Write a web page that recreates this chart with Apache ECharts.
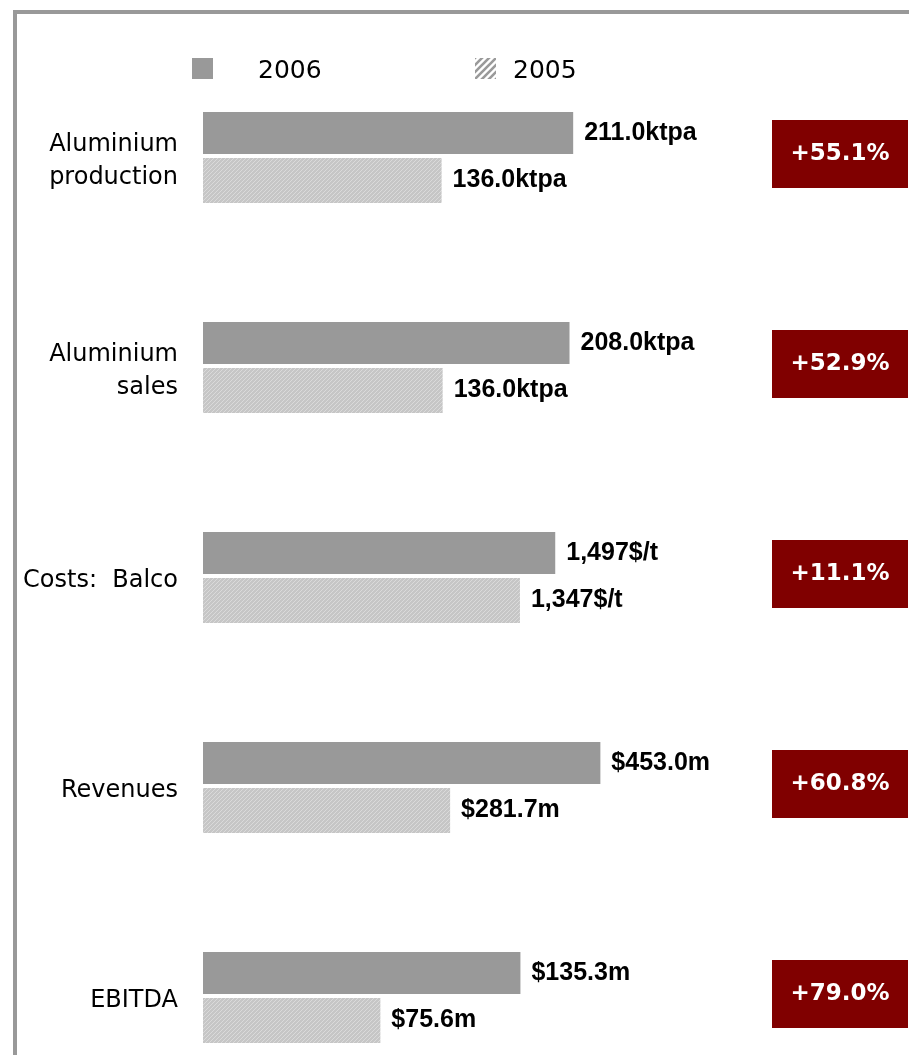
<!DOCTYPE html>
<html>
<head>
<meta charset="utf-8">
<script src="https://cdn.jsdelivr.net/npm/echarts@6/dist/echarts.min.js"></script>
<style>
html,body{margin:0;padding:0;background:#fff;}
#chart{width:909px;height:1055px;}
</style>
</head>
<body>
<div id="chart"></div>
<script>
// ---- data ----
const categories = ['Aluminium\nproduction', 'Aluminium\nsales', 'Costs:  Balco', 'Revenues', 'EBITDA'];
const values2006 = [211.0, 208.0, 1497, 453.0, 135.3];
const values2005 = [136.0, 136.0, 1347, 281.7, 75.6];
const formats = [
  v => v.toFixed(1) + 'ktpa',
  v => v.toFixed(1) + 'ktpa',
  v => v.toLocaleString('en-US') + '$/t',
  v => '$' + v.toFixed(1) + 'm',
  v => '$' + v.toFixed(1) + 'm'
];
const seriesNames = ['2006', '2005'];
// per-metric axis maxima (each metric has its own scale)
const axisMax = [228, 227, 1700, 456, 170.5];

// ---- styling helpers ----
function hatch(size, bg, fg, lw) {
  const c = document.createElement('canvas');
  c.width = c.height = size;
  const x = c.getContext('2d');
  x.fillStyle = bg; x.fillRect(0, 0, size, size);
  x.strokeStyle = fg; x.lineWidth = lw;
  x.beginPath();
  x.moveTo(0, size); x.lineTo(size, 0);
  x.moveTo(-size / 2, size / 2); x.lineTo(size / 2, -size / 2);
  x.moveTo(size / 2, size * 1.5); x.lineTo(size * 1.5, size / 2);
  x.stroke();
  return c;
}
const barHatch = { image: hatch(4, '#c6c6c6', '#dadada', 1), repeat: 'repeat' };
const legendHatch = { image: hatch(7, '#ffffff', '#9a9a9a', 2.6), repeat: 'repeat' };

const changes = values2006.map((v, i) => '+' + ((v / values2005[i] - 1) * 100).toFixed(1) + '%');

const GRID_LEFT = 203, GRID_W = 400, GRID_TOP = 112, GRID_H = 91, STEP = 210;

const grids = [], xAxes = [], yAxes = [], series = [];
categories.forEach((cat, i) => {
  grids.push({ left: GRID_LEFT, width: GRID_W, top: GRID_TOP + STEP * i, height: GRID_H,
    containLabel: false, outerBoundsMode: 'none' });
  xAxes.push({ type: 'value', gridIndex: i, min: 0, max: axisMax[i], show: false });
  yAxes.push({
    type: 'category', gridIndex: i, data: [cat], inverse: false,
    axisLine: { show: false }, axisTick: { show: false }, splitLine: { show: false },
    axisLabel: {
      margin: 25,
      formatter: v => '{s|}\n' + v.split('\n').map(s => '{n|' + s + '}').join('\n'),
      rich: {
        s: { fontSize: 6, lineHeight: 7, height: 7 },
        n: { fontSize: 24, lineHeight: 33, color: '#000', fontFamily: 'DejaVu Sans', align: 'right' }
      }
    }
  });
  yAxes.push({
    type: 'category', gridIndex: i, position: 'right', data: [changes[i]],
    axisLine: { show: false }, axisTick: { show: false }, splitLine: { show: false },
    axisLabel: {
      margin: 237, align: 'center', padding: [0, 0, 7, 0],
      formatter: v => '{b|' + v + '}',
      rich: { b: { backgroundColor: '#800000', color: '#fff', width: 136, height: 68, lineHeight: 68,
        align: 'center', fontSize: 23, fontWeight: 'bold', fontFamily: 'DejaVu Sans' } }
    }
  });
  const labelStyle = { show: true, position: 'right', distance: 11, color: '#000', fontSize: 25,
    fontWeight: 'bold', fontFamily: 'Liberation Sans' };
  series.push({
    name: seriesNames[0], type: 'bar', xAxisIndex: i, yAxisIndex: 2 * i, barWidth: 42, barGap: '10%',
    data: [values2006[i]], itemStyle: { color: '#999999' }, silent: true,
    label: Object.assign({ formatter: p => formats[i](p.value) }, labelStyle)
  });
  series.push({
    name: seriesNames[1], type: 'bar', xAxisIndex: i, yAxisIndex: 2 * i, barWidth: 45, barGap: '10%',
    data: [values2005[i]], itemStyle: { color: barHatch }, silent: true,
    label: Object.assign({ formatter: p => formats[i](p.value) }, labelStyle)
  });
});

const legendText = (padLeft) => ({
  rich: { t: { fontSize: 25, color: '#000', fontFamily: 'DejaVu Sans', padding: [6, 0, 0, padLeft] } }
});

const chart = echarts.init(document.getElementById('chart'), null, { renderer: 'canvas' });
chart.setOption({
  animation: false,
  backgroundColor: '#fff',
  grid: grids, xAxis: xAxes, yAxis: yAxes, series: series,
  legend: [
    { data: [{ name: '2006', itemStyle: { color: '#999999' } }], left: 192, top: 58, padding: 0, itemWidth: 21, itemHeight: 21,
      selectedMode: false, icon: 'rect', formatter: n => '{t|' + n + '}', textStyle: legendText(40) },
    { data: [{ name: '2005', itemStyle: { color: legendHatch } }], left: 475, top: 58, padding: 0, itemWidth: 21, itemHeight: 21,
      selectedMode: false, icon: 'rect', formatter: n => '{t|' + n + '}', textStyle: legendText(12) }
  ],
  graphic: [
    { type: 'rect', shape: { x: 13, y: 10, width: 896, height: 4 }, style: { fill: '#999999' }, silent: true },
    { type: 'rect', shape: { x: 13, y: 10, width: 4, height: 1045 }, style: { fill: '#999999' }, silent: true }
  ]
});
</script>
</body>
</html>
